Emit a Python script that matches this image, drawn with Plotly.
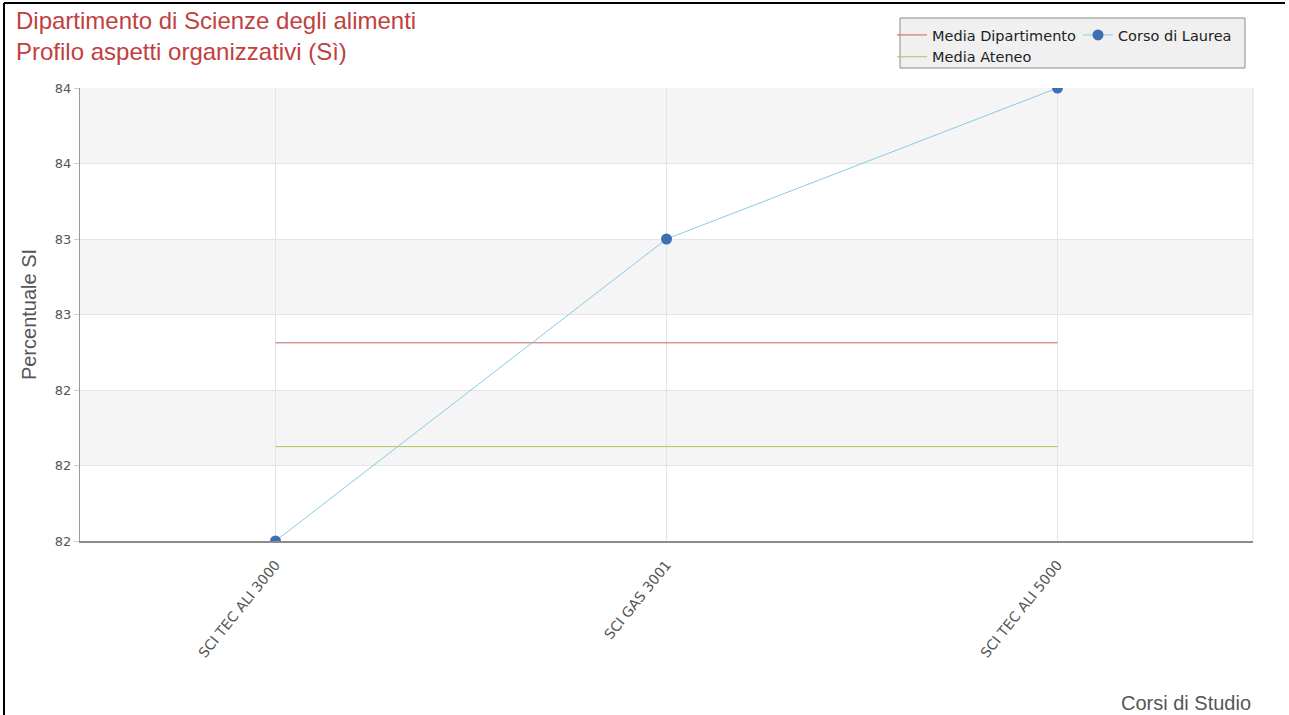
import plotly.graph_objects as go

# ---- data ----
categories = ["SCI TEC ALI 3000", "SCI GAS 3001", "SCI TEC ALI 5000"]
corso_di_laurea = [81.6, 83.2, 84.0]
media_dipartimento = [82.65, 82.65, 82.65]
media_ateneo = [82.1, 82.1, 82.1]
ytick_vals = [81.6, 82.0, 82.4, 82.8, 83.2, 83.6, 84.0]
ytick_text = ["82", "82", "82", "83", "83", "84", "84"]

W, H = 1289, 715
L, R, T, B = 80, 36, 88, 174
pw, ph = W - L - R, H - T - B


def px(x):
    return (x - L) / pw


def py(y):
    return (H - B - y) / ph


fig = go.Figure()

fig.add_trace(go.Scatter(
    x=categories, y=media_dipartimento, mode="lines", name="Media Dipartimento",
    line=dict(color="#c9605e", width=1), legend="legend", legendgroup="a"))
fig.add_trace(go.Scatter(
    x=categories, y=media_ateneo, mode="lines", name="Media Ateneo",
    line=dict(color="#b5c25a", width=1), legend="legend", legendgroup="b"))
fig.add_trace(go.Scatter(
    x=categories, y=corso_di_laurea, mode="lines+markers", name="Corso di Laurea",
    line=dict(color="#86cbe6", width=1),
    marker=dict(color="#3d6fb3", size=11, symbol="circle"),
    legend="legend2"))

shapes = []
# alternating bands
for i in range(len(ytick_vals) - 1):
    if (len(ytick_vals) - 2 - i) % 2 == 0:
        shapes.append(dict(type="rect", xref="paper", yref="y", x0=0, x1=1,
                           y0=ytick_vals[i], y1=ytick_vals[i + 1],
                           fillcolor="#f5f5f5", line=dict(width=0), layer="below"))
# right border of plot area
shapes.append(dict(type="line", xref="paper", yref="paper", x0=1, x1=1, y0=0, y1=1,
                   line=dict(color="#e2e2e2", width=1), layer="below"))
# legend box
shapes.append(dict(type="rect", xref="paper", yref="paper",
                   x0=px(900), x1=px(1245), y0=py(68), y1=py(18),
                   fillcolor="#f0f0f0", line=dict(color="#8a8a8a", width=1)))
# outer black border (left and top)
shapes.append(dict(type="line", xref="paper", yref="paper",
                   x0=px(4), x1=px(4), y0=py(716), y1=py(3),
                   line=dict(color="#000000", width=2)))
shapes.append(dict(type="line", xref="paper", yref="paper",
                   x0=px(4), x1=px(1285), y0=py(3), y1=py(3),
                   line=dict(color="#000000", width=2)))

fig.update_layout(
    width=W, height=H,
    margin=dict(l=L, r=R, t=T, b=B, autoexpand=False),
    paper_bgcolor="white", plot_bgcolor="white",
    font=dict(family="DejaVu Sans", color="#444444"),
    title=dict(
        text="Dipartimento di Scienze degli alimenti<br>Profilo aspetti organizzativi (Sì)",
        x=16 / W, xanchor="left", xref="container",
        y=1 - 29 / H, yanchor="top", yref="container",
        font=dict(family="Liberation Sans", size=24, color="#c0413f")),
    showlegend=True,
    legend=dict(x=px(892), y=py(19), xanchor="left", yanchor="top",
                orientation="v", bgcolor="rgba(0,0,0,0)", borderwidth=0,
                tracegroupgap=0,
                font=dict(family="DejaVu Sans", size=14.5, color="#222222")),
    legend2=dict(x=px(1078), y=py(19), xanchor="left", yanchor="top",
                 orientation="v", bgcolor="rgba(0,0,0,0)", borderwidth=0,
                 font=dict(family="DejaVu Sans", size=14.5, color="#222222")),
    shapes=shapes,
    xaxis=dict(
        type="category", range=[-0.5, 2.5],
        showgrid=True, gridcolor="#e4e4e4", gridwidth=1,
        showline=True, linecolor="#8c8c8c", linewidth=2,
        ticks="", tickangle=-51, ticklabelstandoff=8,
        tickfont=dict(family="DejaVu Sans", size=14, color="#555555"),
        zeroline=False),
    yaxis=dict(
        range=[ytick_vals[0], ytick_vals[-1]],
        tickvals=ytick_vals, ticktext=ytick_text,
        showgrid=True, gridcolor="#e4e4e4", gridwidth=1,
        showline=True, linecolor="#9a9a9a", linewidth=1,
        ticks="outside", ticklen=5, tickcolor="#d0d0d0",
        tickfont=dict(family="DejaVu Sans", size=13, color="#555555"),
        zeroline=False,
        title=dict(text="Percentuale SI", standoff=12,
                   font=dict(family="Liberation Sans", size=20, color="#555555"))),
    annotations=[dict(
        text="Corsi di Studio", xref="paper", yref="paper",
        x=1, y=py(703), xanchor="right", yanchor="middle", showarrow=False,
        font=dict(family="Liberation Sans", size=20, color="#555555"))],
)

fig.write_html("out.html", config={"displayModeBar": False},
               post_script="document.body.style.margin='0';")
